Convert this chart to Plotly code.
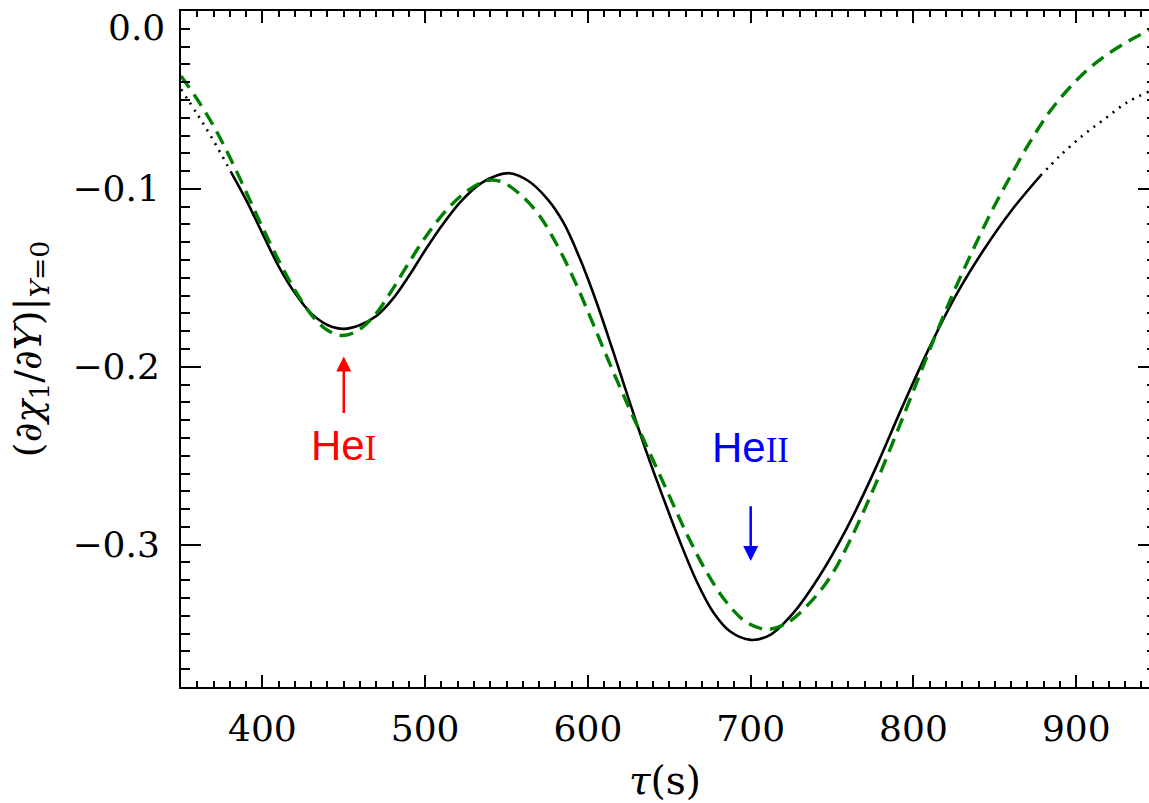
import numpy as np
import plotly.graph_objects as go

# Black curve: τ (s) and (∂χ1/∂Y)|Y=0; drawn solid between the two limits below,
# dotted outside them
tau_black = [350, 360, 370, 381, 391, 400, 410, 420, 430, 440, 450, 460, 470, 480,
             490, 500, 510, 522, 534, 544, 552, 563, 575, 585, 595, 605, 615, 625,
             636, 646, 656, 667, 677, 687, 700, 712, 726, 742, 759, 776, 793, 810,
             826, 843, 860, 878, 890, 904, 917, 931, 944.7]
chi_black = [-0.044, -0.058, -0.073, -0.091, -0.108, -0.125, -0.1435, -0.1585, -0.170,
             -0.1765, -0.1787, -0.1765, -0.1715, -0.162, -0.149, -0.1345, -0.121,
             -0.107, -0.097, -0.0925, -0.0912, -0.0953, -0.1056, -0.119, -0.139,
             -0.163, -0.190, -0.218, -0.248, -0.273, -0.297, -0.321, -0.338,
             -0.3485, -0.3535, -0.3507, -0.3386, -0.318, -0.2908, -0.2585, -0.2228,
             -0.1888, -0.160, -0.1345, -0.1124, -0.0926, -0.0814, -0.070, -0.061,
             -0.0515, -0.0453]
solid_limits = (381, 878)

# Green dashed curve
tau_green = [350, 360, 370, 380.5, 391, 401, 411, 421, 431, 440, 449, 458, 469, 479,
             489, 501, 514, 526, 538, 546.5, 557, 569, 581, 592, 603, 614, 625, 636,
             648, 661, 673, 685, 697.5, 710, 722, 736, 749, 761, 775, 788, 800, 812,
             824, 836, 848, 860, 872, 884, 896, 908, 920, 932, 944.7]
chi_green = [-0.0366, -0.0497, -0.0646, -0.0832, -0.1037, -0.1235, -0.1420, -0.1585,
             -0.1718, -0.1795, -0.1824, -0.1800, -0.171, -0.1578, -0.143, -0.126,
             -0.111, -0.101, -0.0953, -0.0959, -0.102, -0.1135, -0.1315, -0.152,
             -0.1755, -0.1995, -0.2225, -0.2445, -0.2685, -0.2945, -0.3155, -0.3322,
             -0.3437, -0.3476, -0.3442, -0.333, -0.318, -0.2976, -0.2696, -0.241,
             -0.2134, -0.1858, -0.1594, -0.1354, -0.1126, -0.0922, -0.073, -0.0562,
             -0.043, -0.0322, -0.0238, -0.0170, -0.0109]

# Axes
x_range = [350, 944.7]
y_range = [-0.38, 0.0]
x_ticks = [400, 500, 600, 700, 800, 900]
y_ticks = [-0.3, -0.2, -0.1, 0.0]
y_tick_text = ["\u22120.3", "\u22120.2", "\u22120.1", "0.0"]

# Ionisation-zone markers: (element, roman numeral, τ, arrow tip, label centre, colour)
markers = [
    ("He", "I", 450, -0.1942, -0.2445, "red"),
    ("He", "II", 700, -0.3092, -0.2452, "blue"),
]
# gap in px between the label box and the arrow tail
tail_gap = {"I": 8, "II": 34}

TICK_FONT = dict(family="DejaVu Serif", size=36, color="black")

t_b = np.array(tau_black)
c_b = np.array(chi_black)
left = t_b <= solid_limits[0]
mid = (t_b >= solid_limits[0]) & (t_b <= solid_limits[1])
right = t_b >= solid_limits[1]

fig = go.Figure()
spline = dict(shape="spline", smoothing=1.0)
for mask, dash in ((left, "2px,6px"), (mid, "solid"), (right, "2px,6px")):
    fig.add_trace(go.Scatter(
        x=t_b[mask], y=c_b[mask], mode="lines",
        line=dict(color="black", width=2.6, dash=dash, **spline),
        showlegend=False, hoverinfo="skip"))

fig.add_trace(go.Scatter(
    x=tau_green, y=chi_green, mode="lines",
    line=dict(color="#008000", width=3.4, dash="14px,8px", **spline),
    showlegend=False, hoverinfo="skip"))

# empty trace so the right-hand tick axis is drawn
fig.add_trace(go.Scatter(x=[], y=[], yaxis="y2", showlegend=False, hoverinfo="skip"))

annotations = []
for he, roman, tau, tip, label_y, colour in markers:
    annotations.append(dict(
        x=tau, y=tip, ax=tau, ay=label_y, xref="x", yref="y", axref="x", ayref="y",
        text=he + '<span style="font-family:Liberation Serif;font-size:35px">'
        + roman + "</span>",
        font=dict(family="Liberation Sans", size=42, color=colour),
        showarrow=True, arrowhead=2, arrowsize=1.2, arrowwidth=2.5,
        arrowcolor=colour, standoff=0, startstandoff=tail_gap[roman]))

# top label of the y axis sits just below the frame
annotations.append(dict(
    x=0, y=y_ticks[-1], xref="paper", yref="y", text=y_tick_text[-1],
    showarrow=False, xanchor="right", yanchor="middle", xshift=-14, yshift=-16,
    font=TICK_FONT))

fig.update_layout(
    width=1149, height=803,
    margin=dict(l=181, r=0, t=11, b=113),
    paper_bgcolor="white", plot_bgcolor="white",
    annotations=annotations,
    xaxis=dict(
        range=x_range, showline=True, linecolor="black", linewidth=2,
        mirror="ticks", ticks="inside", ticklen=12, tickwidth=2, tickcolor="black",
        tickvals=x_ticks, tickfont=TICK_FONT, ticklabelstandoff=9,
        minor=dict(dtick=10, tick0=0, ticks="inside", ticklen=6, tickwidth=2,
                   tickcolor="black", showgrid=False),
        showgrid=False, zeroline=False,
        title=dict(text="<i>\u03c4</i>(s)", standoff=26,
                   font=dict(family="DejaVu Serif", size=39, color="black"))),
    yaxis=dict(
        range=y_range, showline=True, linecolor="black", linewidth=2,
        ticks="inside", ticklen=20, tickwidth=2, tickcolor="black",
        tickvals=y_ticks[:-1], ticktext=y_tick_text[:-1], tickfont=TICK_FONT,
        ticklabelstandoff=12,
        minor=dict(dtick=0.01, tick0=0, ticks="inside", ticklen=9, tickwidth=2,
                   tickcolor="black", showgrid=False),
        showgrid=False, zeroline=False,
        title=dict(text="(\u2202<i>\u03c7</i><sub>1</sub>/\u2202<i>Y</i>)|<sub><i>Y</i>=0</sub>",
                   standoff=19,
                   font=dict(family="DejaVu Serif", size=38, color="black"))),
    yaxis2=dict(
        range=y_range, overlaying="y", side="right", anchor="x",
        showline=False, ticks="inside", ticklen=11, tickwidth=2, tickcolor="black",
        tickvals=y_ticks[:-1], showticklabels=False,
        minor=dict(dtick=0.01, tick0=0, ticks="inside", ticklen=2, tickwidth=2,
                   tickcolor="black", showgrid=False),
        showgrid=False, zeroline=False),
)

fig.write_html("out.html")
